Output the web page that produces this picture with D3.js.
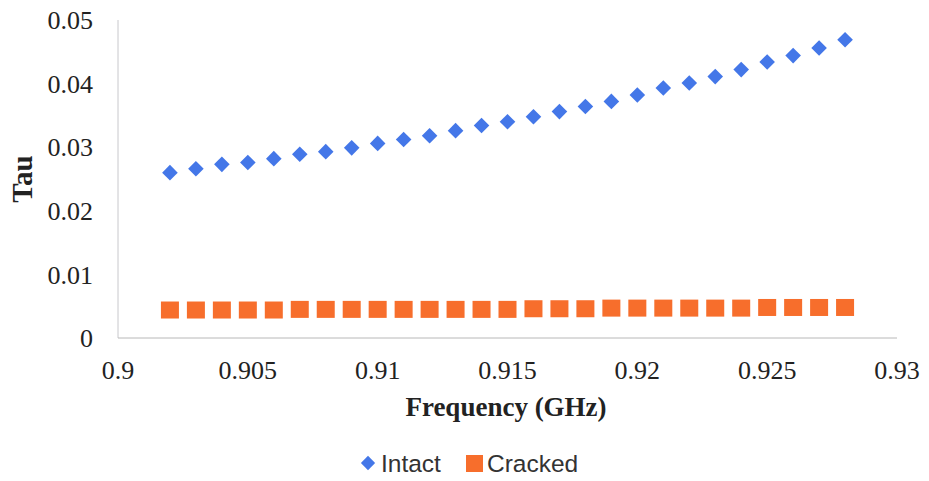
<!DOCTYPE html>
<html>
<head>
<meta charset="utf-8">
<script src="https://cdn.jsdelivr.net/npm/d3@7"></script>
<style>
  body { margin: 0; background: #fff; }
  svg { display: block; }
</style>
</head>
<body>
<svg id="chart" width="929" height="481"></svg>
<script>
const frequency = [0.902,0.903,0.904,0.905,0.906,0.907,0.908,0.909,0.910,0.911,0.912,0.913,0.914,0.915,0.916,0.917,0.918,0.919,0.920,0.921,0.922,0.923,0.924,0.925,0.926,0.927,0.928];
const intact = [0.0260,0.0266,0.0273,0.0276,0.0282,0.0289,0.0293,0.0299,0.0306,0.0312,0.0318,0.0326,0.0334,0.0340,0.0348,0.0356,0.0364,0.0372,0.0382,0.0393,0.0401,0.0411,0.0422,0.0434,0.0444,0.0456,0.0469];
const cracked = [0.0044,0.0044,0.0044,0.0044,0.0044,0.0045,0.0045,0.0045,0.0045,0.0045,0.0045,0.0045,0.0045,0.0045,0.0046,0.0046,0.0046,0.0047,0.0047,0.0047,0.0047,0.0047,0.0047,0.0048,0.0048,0.0048,0.0048];
const xTicks = [0.9,0.905,0.91,0.915,0.92,0.925,0.93];
const yTicks = [0,0.01,0.02,0.03,0.04,0.05];
const seriesNames = ["Intact","Cracked"];
const colors = {Intact: "#4477e8", Cracked: "#f76e2c"};

const svg = d3.select("#chart");
const x = d3.scaleLinear().domain([0.9, 0.93]).range([118, 897]);
const y = d3.scaleLinear().domain([0, 0.05]).range([338, 20]);
const serif = "'Liberation Serif', 'Times New Roman', serif";
const sans = "'Liberation Sans', Arial, sans-serif";

// axis lines
svg.append("line").attr("x1", x(0.9)).attr("x2", x(0.9)).attr("y1", y(0.05)).attr("y2", y(0))
  .attr("stroke", "#c8c8cc").attr("stroke-width", 1);
svg.append("line").attr("x1", x(0.9)).attr("x2", x(0.93)).attr("y1", y(0)).attr("y2", y(0))
  .attr("stroke", "#b8b8b8").attr("stroke-width", 1);

// y tick labels
svg.selectAll(".ytick").data(yTicks).enter().append("text")
  .attr("x", 93).attr("y", d => y(d)).attr("dy", "0.35em")
  .attr("text-anchor", "end")
  .style("font-family", serif).style("font-size", "26px").attr("fill", "#222")
  .text(d => d === 0 ? "0" : d3.format(".2f")(d));

// x tick labels
svg.selectAll(".xtick").data(xTicks).enter().append("text")
  .attr("x", d => x(d)).attr("y", 379)
  .attr("text-anchor", "middle")
  .style("font-family", serif).style("font-size", "26px").attr("fill", "#222")
  .text(d => String(+d.toFixed(3)));

// axis titles
svg.append("text").attr("x", 506).attr("y", 416).attr("text-anchor", "middle")
  .style("font-family", serif).style("font-size", "27px").style("font-weight", "bold").attr("fill", "#222")
  .text("Frequency (GHz)");
svg.append("text").attr("transform", "translate(32,179) rotate(-90)").attr("text-anchor", "middle")
  .style("font-family", serif).style("font-size", "29px").style("font-weight", "bold").attr("fill", "#222")
  .text("Tau");

// markers
const diamond = d3.symbol().type(d3.symbolDiamond2).size(155);
svg.selectAll(".intact").data(frequency).enter().append("path")
  .attr("d", diamond)
  .attr("transform", (d, i) => `translate(${x(d)},${y(intact[i])})`)
  .attr("fill", colors.Intact);
svg.selectAll(".cracked").data(frequency).enter().append("rect")
  .attr("x", d => x(d) - 9).attr("y", (d, i) => y(cracked[i]) - 8.5)
  .attr("width", 18).attr("height", 17)
  .attr("fill", colors.Cracked);

// legend
const lg = svg.append("g");
lg.append("path").attr("d", d3.symbol().type(d3.symbolDiamond2).size(130))
  .attr("transform", "translate(368,463)").attr("fill", colors.Intact);
lg.append("text").attr("x", 381).attr("y", 463).attr("dy", "0.35em")
  .style("font-family", sans).style("font-size", "24.5px")
  .attr("fill", "#333").text(seriesNames[0]);
lg.append("rect").attr("x", 466).attr("y", 455).attr("width", 17).attr("height", 17)
  .attr("fill", colors.Cracked);
lg.append("text").attr("x", 487).attr("y", 463).attr("dy", "0.35em")
  .style("font-family", sans).style("font-size", "24.5px")
  .attr("fill", "#333").text(seriesNames[1]);
</script>
</body>
</html>
